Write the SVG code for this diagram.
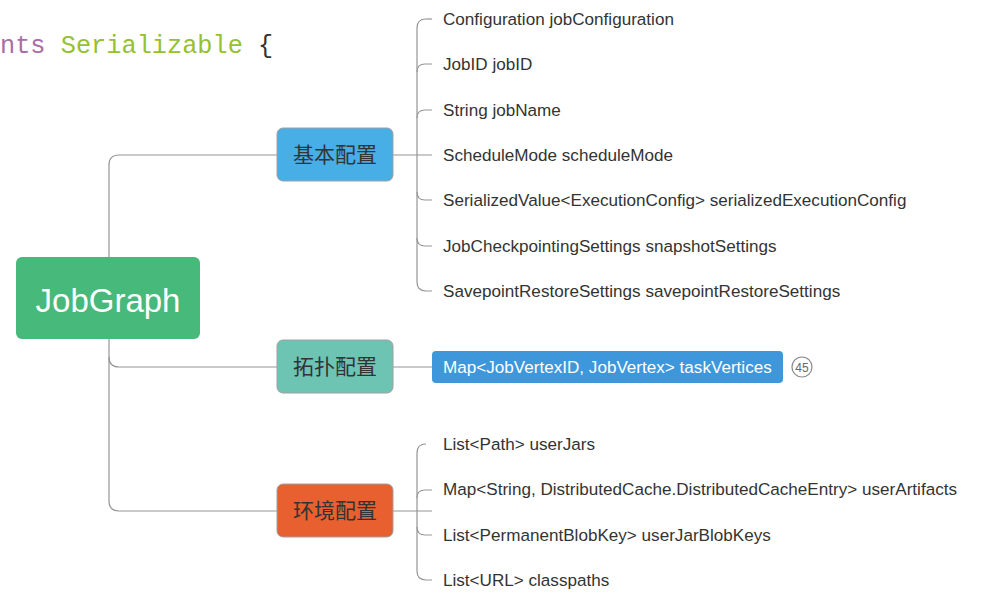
<svg xmlns="http://www.w3.org/2000/svg" width="989" height="615" viewBox="0 0 989 615">
<style>
.code{font-family:"Liberation Mono","DejaVu Sans Mono",monospace;font-size:25.3px}
.cat{font-family:"Noto Sans CJK SC",sans-serif;font-size:21px;fill:#333;text-anchor:middle}
.leaf{font-family:"Liberation Sans",Arial,sans-serif;font-size:17.1px;fill:#333}
.box{stroke:#a0a0a0;stroke-width:1}
.ln{fill:none;stroke:#959595;stroke-width:1.2}
</style>
<rect width="989" height="615" fill="#fff"/>
<text class="code" x="0" y="53"><tspan fill="#a86ea8">nts </tspan><tspan fill="#95c12e">Serializable</tspan><tspan fill="#333"> {</tspan></text>
<g id="connectors">
<path class="ln" d="M277,155 H119 Q109,155 109,165 V501 Q109,511 119,511 H277"/>
<path class="ln" d="M109,357 Q109,367 119,367 H277"/>
<path class="ln" d="M393,155 H432"/>
<path class="ln" d="M426,19 Q417,19 417,28 V282 Q417,291 426,291 H432"/>
<path class="ln" d="M426,19 H432"/>
<path class="ln" d="M417,72 Q417,64 425,64 H432"/>
<path class="ln" d="M417,118 Q417,110 425,110 H432"/>
<path class="ln" d="M417,192 Q417,200 425,200 H432"/>
<path class="ln" d="M417,238 Q417,246 425,246 H432"/>
<path class="ln" d="M393,367 H432"/>
<path class="ln" d="M393,511 H432"/>
<path class="ln" d="M426,444 Q417,444 417,453 V571 Q417,580 426,580 H432"/>
<path class="ln" d="M417,498 Q417,490 425,490 H432"/>
<path class="ln" d="M417,527 Q417,535 425,535 H432"/>
</g>
<g id="root">
<rect x="16" y="257" width="184" height="82" rx="6" fill="#47b97a"/>
<text x="108" y="312" font-family="Liberation Sans,Arial,sans-serif" font-size="33" fill="#fff" text-anchor="middle">JobGraph</text>
</g>
<g id="basic">
<rect class="box" x="277" y="128" width="116" height="53" rx="6" fill="#48aee6"/>
<text class="cat" x="335" y="162">基本配置</text>
</g>
<g id="topology">
<rect class="box" x="277" y="340" width="116" height="53" rx="6" fill="#6ec4b3"/>
<text class="cat" x="335" y="374">拓扑配置</text>
</g>
<g id="env">
<rect class="box" x="277" y="484" width="116" height="53" rx="6" fill="#e8602f"/>
<text class="cat" x="335" y="518">环境配置</text>
</g>
<g id="basic-items">
<text class="leaf" x="443" y="25">Configuration jobConfiguration</text>
<text class="leaf" x="443" y="70">JobID jobID</text>
<text class="leaf" x="443" y="116">String jobName</text>
<text class="leaf" x="443" y="161">ScheduleMode scheduleMode</text>
<text class="leaf" x="443" y="206">SerializedValue&lt;ExecutionConfig&gt; serializedExecutionConfig</text>
<text class="leaf" x="443" y="252">JobCheckpointingSettings snapshotSettings</text>
<text class="leaf" x="443" y="297">SavepointRestoreSettings savepointRestoreSettings</text>
</g>
<g id="taskVertices">
<rect x="432" y="351" width="351" height="32" rx="4" fill="#3e97da"/>
<text x="443" y="373" font-family="Liberation Sans,Arial,sans-serif" font-size="17.1" fill="#fff">Map&lt;JobVertexID, JobVertex&gt; taskVertices</text>
<circle cx="802" cy="367" r="10" fill="#fff" stroke="#8a8a8a" stroke-width="1.2"/>
<text x="802" y="371.5" font-family="Liberation Sans,Arial,sans-serif" font-size="12" fill="#666" text-anchor="middle">45</text>
</g>
<g id="env-items">
<text class="leaf" x="443" y="450">List&lt;Path&gt; userJars</text>
<text class="leaf" x="443" y="495">Map&lt;String, DistributedCache.DistributedCacheEntry&gt; userArtifacts</text>
<text class="leaf" x="443" y="541">List&lt;PermanentBlobKey&gt; userJarBlobKeys</text>
<text class="leaf" x="443" y="586">List&lt;URL&gt; classpaths</text>
</g>
</svg>
